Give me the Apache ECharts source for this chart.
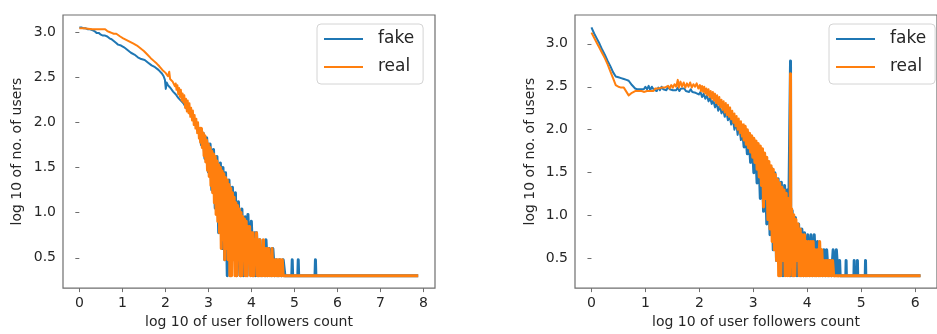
<!DOCTYPE html>
<html>
<head>
<meta charset="utf-8">
<script src="https://cdn.jsdelivr.net/npm/echarts@6/dist/echarts.min.js"></script>
<style>
html,body{margin:0;padding:0;background:#fff;}
#chart{width:937px;height:334px;}
</style>
</head>
<body>
<div id="chart"></div>
<script>
// ---- tick labels ----
var xTicksLeft = [0, 1, 2, 3, 4, 5, 6, 7, 8];
var xTicksRight = [0, 1, 2, 3, 4, 5, 6];
var yTicks = [0.5, 1.0, 1.5, 2.0, 2.5, 3.0];
var seriesNames = ['fake', 'real'];

// ---- left chart: fake (smooth head, then noisy tail) ----
var fakeLeftHead = [
[0,3.05],[0.05,3.05],[0.1,3.04],[0.15,3.04],[0.2,3.03],[0.25,3.03],[0.3,3.02],[0.35,3.01],[0.4,2.99],[0.45,2.99],
[0.5,2.97],[0.55,2.96],[0.6,2.96],[0.65,2.95],[0.7,2.93],[0.75,2.92],[0.8,2.90],[0.85,2.88],[0.9,2.86],[0.93,2.87],
[0.97,2.85],[1.0,2.84],[1.04,2.83],[1.08,2.81],[1.12,2.80],[1.16,2.78],[1.2,2.77],[1.24,2.75],[1.28,2.75],[1.32,2.73],
[1.36,2.72],[1.4,2.72],[1.44,2.70],[1.48,2.69],[1.52,2.69],[1.56,2.67],[1.6,2.66],[1.64,2.65],[1.68,2.63],[1.72,2.62],
[1.76,2.61],[1.8,2.60],[1.84,2.58],[1.88,2.57],[1.92,2.54],[1.96,2.51],[1.99,2.47],[2.01,2.37],[2.03,2.44],[2.06,2.41],
[2.09,2.42],[2.12,2.38],[2.15,2.37],[2.18,2.34],[2.21,2.35],[2.24,2.31],[2.27,2.30],[2.30,2.27],[2.33,2.28],[2.36,2.24],
[2.39,2.25],[2.42,2.21],[2.45,2.20],[2.48,2.16],[2.51,2.17],[2.54,2.12],[2.57,2.13],[2.60,2.08],[2.63,2.06],[2.66,2.04],
[2.69,2.01],[2.72,1.98],[2.75,1.96],[2.78,1.90],[2.80,1.92]
];
var fakeLeftTail = [
[2.80,1.92],[2.84,1.75],[2.88,1.88],[2.92,1.60],[2.96,1.83],[3.00,1.45],[3.04,1.76],[3.08,1.25],[3.12,1.70],[3.16,1.05],
[3.20,1.62],[3.24,0.778],[3.28,1.55],[3.32,0.602],[3.34,1.50],[3.38,0.477],[3.40,1.44],[3.44,0.301],[3.48,1.36],[3.52,0.301],
[3.56,1.28],[3.60,0.477],[3.63,1.22],[3.66,0.301],[3.70,1.12],[3.74,0.301],[3.78,1.04],[3.82,0.301],[3.86,0.954],[3.90,0.301],
[3.92,0.98],[3.96,0.477],[4.00,0.903],[4.04,0.301],[4.08,0.778],[4.10,0.301],[4.12,0.778],[4.16,0.301],[4.20,0.699],[4.24,0.301],
[4.28,0.602],[4.32,0.301],[4.34,0.699],[4.38,0.301],[4.42,0.602],[4.46,0.301],[4.50,0.602],[4.54,0.301],[4.58,0.477],[4.62,0.301],
[4.66,0.477],[4.70,0.301],[4.74,0.477],[4.78,0.301],
[4.94,0.301],[4.95,0.477],[4.96,0.301],[5.08,0.301],[5.09,0.477],[5.10,0.301],[5.48,0.301],[5.49,0.477],[5.50,0.301],[7.88,0.301]
];

// ---- left chart: real ----
var realLeftHead = [
[0,3.04],[0.1,3.04],[0.2,3.035],[0.3,3.03],[0.4,3.03],[0.5,3.03],[0.6,3.03],[0.65,3.01],[0.7,3.00],[0.75,2.99],
[0.8,2.98],[0.83,2.97],[0.86,2.98],[0.9,2.96],[0.95,2.95],[0.98,2.96],[1.02,2.93],[1.06,2.94],[1.1,2.91],[1.14,2.92],
[1.18,2.89],[1.22,2.89],[1.26,2.87],[1.3,2.87],[1.34,2.85],[1.38,2.84],[1.42,2.82],[1.46,2.81],[1.5,2.79],[1.54,2.78],
[1.58,2.75],[1.62,2.74],[1.66,2.71],[1.70,2.72],[1.73,2.68],[1.76,2.69],[1.8,2.65],[1.83,2.66],[1.86,2.62],[1.9,2.61],
[1.93,2.58],[1.96,2.59],[2.0,2.55],[2.03,2.54],[2.06,2.51],[2.09,2.56],[2.11,2.48],[2.14,2.49],[2.17,2.45],[2.20,2.44],
[2.22,2.40],[2.24,2.43],[2.26,2.36],[2.28,2.41],[2.30,2.31],[2.32,2.38],[2.34,2.28],[2.36,2.36],[2.38,2.24],[2.40,2.32],
[2.42,2.22],[2.44,2.30],[2.46,2.16],[2.48,2.26],[2.50,2.12],[2.52,2.24],[2.54,2.10],[2.56,2.21],[2.58,2.06],[2.60,2.16],
[2.62,2.02],[2.64,2.13],[2.66,1.97],[2.68,2.08],[2.70,1.93],[2.72,2.04],[2.74,1.88],[2.76,2.00],[2.78,1.82],[2.80,1.95]
];
var realLeftTail = [
[2.80,1.95],
[2.82,1.78],[2.84,1.93],[2.86,1.72],[2.88,1.88],[2.90,1.63],[2.92,1.85],[2.94,1.56],[2.96,1.80],[2.98,1.47],[3.00,1.76],
[3.02,1.40],[3.04,1.72],[3.06,1.30],[3.08,1.68],[3.10,1.22],[3.12,1.65],[3.14,1.11],[3.16,1.62],[3.18,0.98],[3.20,1.57],
[3.22,0.903],[3.24,1.53],[3.26,0.778],[3.28,1.50],[3.30,0.602],[3.32,1.46],[3.34,0.699],[3.36,1.43],[3.38,0.477],[3.40,1.39],
[3.42,0.602],[3.44,1.36],[3.46,0.477],[3.48,1.31],[3.50,0.301],[3.52,1.27],[3.54,0.301],[3.56,1.22],[3.58,0.477],[3.60,1.17],
[3.62,0.301],[3.64,1.11],[3.66,0.301],[3.68,1.08],[3.70,0.477],[3.72,1.04],[3.74,0.301],[3.76,1.0],[3.78,0.301],[3.80,0.954],
[3.82,0.477],[3.84,0.93],[3.86,0.301],[3.88,0.903],[3.90,0.301],[3.92,0.845],[3.94,0.477],[3.96,0.845],[3.98,0.301],[4.00,0.778],
[4.02,0.301],[4.04,0.778],[4.06,0.301],[4.08,0.699],[4.10,0.477],[4.12,0.778],[4.14,0.301],[4.16,0.699],[4.18,0.301],[4.20,0.699],
[4.22,0.301],[4.24,0.602],[4.26,0.301],[4.28,0.699],[4.30,0.301],[4.32,0.602],[4.34,0.301],[4.36,0.602],[4.38,0.301],[4.40,0.602],
[4.42,0.301],[4.44,0.477],[4.46,0.301],[4.48,0.602],[4.50,0.301],[4.52,0.477],[4.54,0.301],[4.56,0.477],[4.58,0.301],[4.60,0.477],
[4.62,0.301],[4.64,0.477],[4.66,0.301],[4.68,0.477],[4.70,0.301],[4.72,0.477],[4.74,0.301],[7.88,0.301]
];

// ---- right chart: fake ----
var fakeRightHead = [
[0,3.19],[0.05,3.12],[0.1,3.06],[0.15,3.00],[0.2,2.93],[0.25,2.87],[0.3,2.80],[0.35,2.74],[0.4,2.67],[0.45,2.62],
[0.5,2.61],[0.55,2.60],[0.6,2.59],[0.65,2.58],[0.69,2.57],[0.75,2.52],[0.81,2.48],[0.85,2.47],[0.88,2.48],[0.91,2.47],
[0.94,2.49],[0.97,2.47],[1.0,2.50],[1.03,2.47],[1.06,2.51],[1.09,2.46],[1.12,2.50],[1.15,2.47],[1.18,2.49],[1.21,2.45],
[1.24,2.49],[1.27,2.46],[1.30,2.50],[1.33,2.47],[1.36,2.49],[1.39,2.46],[1.42,2.50],[1.45,2.47],[1.48,2.49],[1.51,2.46],
[1.54,2.48],[1.57,2.46],[1.60,2.49],[1.63,2.45],[1.66,2.48],[1.69,2.46],[1.72,2.48],[1.75,2.45],[1.78,2.47],[1.81,2.44],
[1.84,2.47],[1.87,2.44],[1.90,2.46],[1.93,2.43],[1.96,2.45],[1.99,2.41],
[2.02,2.44],[2.05,2.38],[2.08,2.42],[2.11,2.36],[2.14,2.40],[2.17,2.33],[2.20,2.37],[2.23,2.30],[2.26,2.34],[2.29,2.26],
[2.32,2.31],[2.35,2.22],[2.38,2.28],[2.41,2.19],[2.44,2.24],[2.47,2.15],[2.50,2.21],[2.53,2.11],[2.56,2.17],[2.59,2.06],
[2.62,2.13],[2.65,2.00],[2.68,2.09],[2.71,1.94],[2.74,2.05],[2.77,1.88],[2.80,2.01]
];
var fakeRightTail = [
[2.80,2.01],[2.83,1.80],[2.86,1.97],[2.89,1.72],
[2.92,1.93],[2.95,1.62],[2.98,1.90],[3.01,1.50],[3.04,1.85],[3.07,1.38],[3.10,1.80],[3.13,1.20],[3.16,1.75],[3.19,1.05],
[3.22,1.68],[3.25,0.903],[3.28,1.62],[3.31,0.778],[3.34,1.55],[3.37,0.602],[3.40,1.50],[3.43,0.477],[3.46,1.43],[3.49,0.301],
[3.52,1.39],[3.55,0.301],[3.58,1.35],[3.61,0.477],[3.63,1.30],[3.66,1.18],[3.685,1.16],[3.69,2.80],[3.695,0.301],[3.72,1.06],
[3.75,0.301],[3.78,0.98],[3.81,0.301],[3.84,0.903],[3.87,0.301],[3.90,0.845],[3.93,0.301],[3.95,0.80],[3.98,0.301],[4.01,0.778],
[4.04,0.301],[4.07,0.778],[4.10,0.301],[4.13,0.778],[4.16,0.301],[4.19,0.699],[4.22,0.301],[4.25,0.602],[4.28,0.301],[4.31,0.602],
[4.34,0.301],[4.36,0.602],[4.39,0.301],[4.42,0.477],[4.45,0.301],[4.48,0.602],[4.51,0.301],[4.54,0.602],[4.57,0.301],[4.60,0.477],
[4.61,0.301],[4.715,0.301],[4.72,0.477],[4.725,0.301],[4.865,0.301],[4.87,0.477],[4.875,0.301],[4.925,0.301],[4.93,0.477],[4.935,0.301],
[5.075,0.301],[5.08,0.477],[5.085,0.301],[6.10,0.301]
];

// ---- right chart: real ----
var realRightHead = [
[0,3.13],[0.05,3.07],[0.1,3.01],[0.15,2.95],[0.2,2.89],[0.25,2.83],[0.3,2.76],[0.35,2.68],[0.4,2.60],[0.45,2.52],
[0.5,2.50],[0.55,2.49],[0.6,2.49],[0.63,2.48],[0.69,2.40],[0.75,2.43],[0.81,2.45],[0.87,2.45],[0.93,2.45],[0.97,2.44],
[1.0,2.46],[1.03,2.45],[1.06,2.47],[1.09,2.45],[1.12,2.47],[1.15,2.45],[1.18,2.48],[1.21,2.46],[1.24,2.48],[1.27,2.46],
[1.30,2.49],[1.33,2.47],[1.36,2.49],[1.39,2.48],[1.42,2.51],[1.45,2.48],[1.48,2.52],[1.51,2.49],[1.54,2.53],[1.57,2.50],
[1.60,2.58],[1.62,2.49],[1.65,2.56],[1.68,2.50],[1.71,2.55],[1.74,2.49],[1.77,2.54],[1.80,2.50],[1.83,2.55],[1.86,2.49],
[1.89,2.53],[1.92,2.50],[1.95,2.54],[1.98,2.48],[2.01,2.52],
[2.03,2.45],[2.05,2.51],[2.07,2.44],[2.09,2.50],[2.11,2.42],[2.13,2.48],[2.15,2.40],[2.17,2.47],[2.19,2.38],[2.21,2.45],
[2.23,2.36],[2.25,2.44],[2.27,2.34],[2.29,2.42],[2.31,2.31],[2.33,2.40],[2.35,2.29],[2.37,2.38],[2.39,2.26],[2.41,2.35],
[2.43,2.23],[2.45,2.33],[2.47,2.20],[2.49,2.31],[2.51,2.17],[2.53,2.29],[2.55,2.15],[2.57,2.26],[2.59,2.12],[2.61,2.22],
[2.63,2.08],[2.65,2.19],[2.67,2.04],[2.69,2.16],[2.71,2.00],[2.73,2.13],[2.75,1.96],[2.77,2.10],[2.79,1.92],[2.81,2.07]
];
var realRightTail = [
[2.81,2.07],
[2.83,1.88],[2.85,2.04],[2.87,1.83],[2.89,2.00],[2.91,1.79],[2.93,1.96],[2.95,1.74],[2.97,1.93],[2.99,1.68],[3.01,1.90],
[3.03,1.62],[3.05,1.87],[3.07,1.54],[3.09,1.84],[3.11,1.45],[3.13,1.81],[3.15,1.35],[3.17,1.78],[3.19,1.10],[3.21,1.73],
[3.23,1.20],[3.25,1.68],[3.27,0.954],[3.29,1.63],[3.31,0.845],[3.33,1.58],[3.35,0.699],[3.37,1.54],[3.39,0.602],[3.41,1.48],
[3.43,0.477],[3.45,1.42],[3.47,0.301],[3.49,1.38],[3.51,0.301],[3.53,1.33],[3.55,0.477],[3.57,1.30],[3.59,0.301],[3.61,1.26],
[3.63,0.301],[3.65,1.20],[3.67,0.301],[3.685,1.15],[3.69,2.65],[3.695,0.477],[3.71,1.08],[3.73,0.301],[3.75,1.01],[3.77,0.301],
[3.79,0.954],[3.81,0.477],[3.83,0.903],[3.85,0.301],[3.87,0.845],[3.89,0.301],[3.91,0.778],[3.93,0.301],[3.95,0.778],[3.97,0.301],
[3.99,0.699],[4.01,0.301],[4.03,0.699],[4.05,0.301],[4.07,0.699],[4.09,0.301],[4.11,0.699],[4.13,0.301],[4.15,0.602],[4.17,0.301],
[4.19,0.602],[4.21,0.301],[4.23,0.699],[4.25,0.301],[4.27,0.602],[4.29,0.301],[4.31,0.477],[4.33,0.301],[4.35,0.477],[4.37,0.301],
[4.39,0.477],[4.41,0.301],[4.43,0.477],[4.45,0.301],[4.47,0.477],[4.49,0.301],[6.10,0.301]
];

var FONT = 'DejaVu Sans';
var TEXT = '#262626';
var SPINE = '#6e6e6e';
var BLUE = '#1f77b4';
var ORANGE = '#ff7f0e';

function xAx(idx, min, max, ticks) {
  return {
    type: 'value', gridIndex: idx, min: min, max: max,
    name: 'log 10 of user followers count', nameLocation: 'middle', nameGap: 26,
    nameTextStyle: {fontFamily: FONT, fontSize: 14, color: TEXT},
    axisLine: {show: false},
    axisTick: {show: true, inside: false, length: 4, lineStyle: {color: SPINE, width: 1}, customValues: ticks},
    axisLabel: {show: true, margin: 8, fontFamily: FONT, fontSize: 14, color: TEXT, customValues: ticks,
      formatter: function (v) { return String(Math.round(v)); }},
    splitLine: {show: false}
  };
}
function yAx(idx, min, max, gap) {
  return {
    type: 'value', gridIndex: idx, min: min, max: max,
    name: 'log 10 of no. of users', nameLocation: 'middle', nameGap: gap, nameRotate: 90,
    nameTextStyle: {fontFamily: FONT, fontSize: 14, color: TEXT},
    axisLine: {show: false},
    axisTick: {show: true, inside: false, length: 4, lineStyle: {color: SPINE, width: 1}, customValues: yTicks},
    axisLabel: {show: true, margin: 7, fontFamily: FONT, fontSize: 14, color: TEXT, customValues: yTicks,
      formatter: function (v) { return v.toFixed(1); }},
    splitLine: {show: false}
  };
}
function legendAt(left) {
  return {
    data: seriesNames, orient: 'vertical', left: left, top: 24,
    backgroundColor: 'rgba(255,255,255,0.85)', borderColor: '#d4d4d4', borderWidth: 1, borderRadius: 4,
    padding: [6, 9, 8, 7], itemGap: 10, itemWidth: 39, itemHeight: 2, icon: 'rect',
    textStyle: {fontFamily: FONT, fontSize: 17, color: TEXT, padding: [0, 0, 0, 10], lineHeight: 18},
    selectedMode: false
  };
}
function line(name, xi, data, color, w) {
  return {
    name: name, type: 'line', xAxisIndex: xi, yAxisIndex: xi, data: data,
    symbol: 'none', showSymbol: false, animation: false, silent: true, sampling: null,
    lineStyle: {color: color, width: w, join: 'round', cap: 'butt'}, itemStyle: {color: color}
  };
}

var chart = echarts.init(document.getElementById('chart'), null, {renderer: 'canvas'});
chart.setOption({
  animation: false,
  backgroundColor: '#ffffff',
  grid: [
    {left: 63, top: 15, width: 372, height: 278, show: true, borderColor: SPINE, borderWidth: 1.2, backgroundColor: 'transparent'},
    {left: 575, top: 15, width: 371, height: 278, show: true, borderColor: SPINE, borderWidth: 1.2, backgroundColor: 'transparent'}
  ],
  xAxis: [xAx(0, -0.38, 8.27, xTicksLeft), xAx(1, -0.305, 6.405, xTicksRight)],
  yAxis: [yAx(0, 0.164, 3.188, 39), yAx(1, 0.157, 3.335, 38)],
  legend: [legendAt(317), legendAt(829)],
  series: [
    line('fake', 0, fakeLeftHead, BLUE, 2),
    line('fake', 0, fakeLeftTail, BLUE, 3),
    line('real', 0, realLeftHead, ORANGE, 2),
    line('real', 0, realLeftTail, ORANGE, 3),
    line('fake', 1, fakeRightHead, BLUE, 2),
    line('fake', 1, fakeRightTail, BLUE, 3),
    line('real', 1, realRightHead, ORANGE, 2),
    line('real', 1, realRightTail, ORANGE, 3)
  ]
});
</script>
</body>
</html>
